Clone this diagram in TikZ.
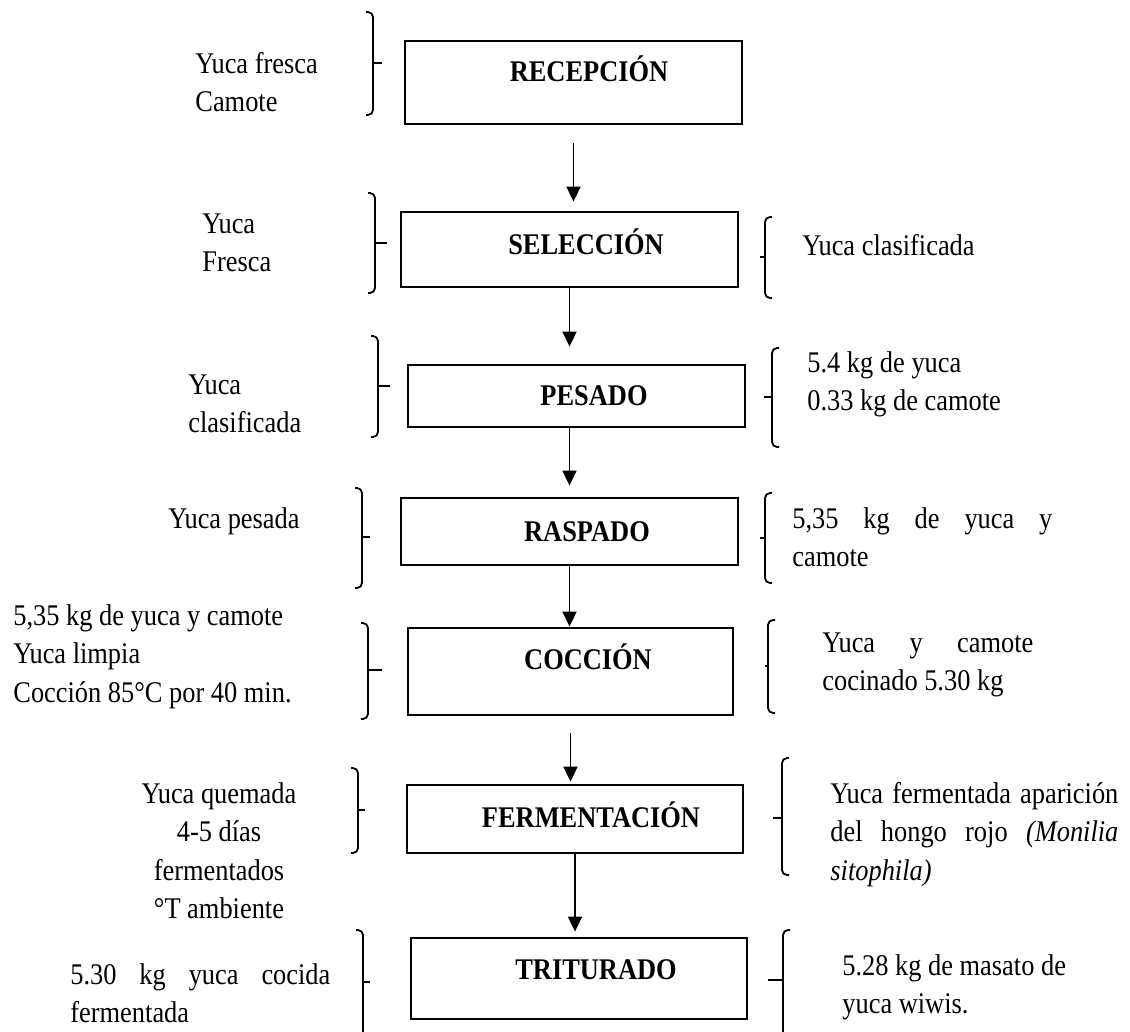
\documentclass[tikz,border=0pt]{standalone}
\usepackage{fontspec}
\setmainfont{Liberation Serif}[FakeStretch=0.88]
\usetikzlibrary{arrows.meta}

% bracket opening towards the right-hand box: x, top, bottom, tick y, tick end x
\newcommand{\leftbrk}[5]{%
  \draw[brk] (#1-7,#2) -- (#1,#2) -- (#1,#3) -- (#1-7,#3);
  \draw[tick] (#1,#4) -- (#5,#4);}
% bracket opening towards the right-hand text
\newcommand{\rightbrk}[5]{%
  \draw[brk] (#1+7,#2) -- (#1,#2) -- (#1,#3) -- (#1+7,#3);
  \draw[tick] (#1,#4) -- (#5,#4);}

\begin{document}
\begin{tikzpicture}[x=0.5pt,y=-0.5pt,
  box/.style={draw, line width=1.4pt, fill=white, minimum width=168.5pt, inner sep=0},
  stage/.style={font=\fontsize{15}{19.25}\selectfont\bfseries, inner sep=0, anchor=base},
  txt/.style={font=\fontsize{15}{19.25}\selectfont, inner sep=0, align=left, anchor=north west},
  ctxt/.style={txt, align=center, anchor=north},
  arr/.style={line width=0.85pt, -{Triangle[width=7pt,length=7.5pt]}},
  brk/.style={line width=0.9pt, rounded corners=2.5pt},
  tick/.style={line width=1.3pt}]
\useasboundingbox[fill=white] (0,0) rectangle (1130,1032);

% process stages
\node[box, minimum height=41.5pt] (recep) at (573.5,82.5) {};
\node[box, minimum height=37.5pt] (selec) at (569.5,249.5) {};
\node[box, minimum height=31pt]   (pesad) at (576.5,396) {};
\node[box, minimum height=33.5pt] (rasp)  at (569.5,531.5) {};
\node[box, minimum width=162.5pt, minimum height=43.5pt] (cocc) at (570.5,671.5) {};
\node[box, minimum width=168pt, minimum height=34pt] (ferm) at (575,819) {};
\node[box, minimum width=168pt, minimum height=40.5pt] (trit) at (579,978.5) {};

\node[stage] (recepT) at (589,82)  {RECEPCIÓN};
\node[stage] (selecT) at (586,255) {SELECCIÓN};
\node[stage] (pesadT) at (594,405) {PESADO};
\node[stage] (raspT)  at (587,541) {RASPADO};
\node[stage] (coccT)  at (588,669) {COCCIÓN};
\node[stage] (fermT)  at (591,827) {FERMENTACIÓN};
\node[stage] (tritT)  at (596,979) {TRITURADO};

% flow arrows
\draw[arr, shorten <=9pt, shorten >=4.5pt] (recep.south) -- (recep.south |- selec.north);
\draw[arr, shorten >=8.5pt] (selec.south) -- (selec.south |- pesad.north);
\draw[arr, shorten >=5.5pt] (pesad.south -| rasp.north) -- (rasp.north);
\draw[arr] (rasp.south) -- (rasp.south |- cocc.north);
\draw[arr, shorten <=8.5pt, shorten >=1pt] (cocc.south) -- (cocc.south |- ferm.north);
\draw[arr, shorten >=2.5pt] (ferm.south) -- (ferm.south |- trit.north);

% inputs on the left
\leftbrk{373}{12}{115}{63}{382}
\leftbrk{375}{193}{293}{243}{387}
\leftbrk{378}{336}{437}{386}{390}
\leftbrk{362}{488}{588}{537}{370}
\leftbrk{368}{623}{719}{670}{382}
\leftbrk{358}{768}{853}{810}{365}
\leftbrk{363}{930}{1045}{982}{370}

\node[txt] (in1) at (195,46)  {\strut Yuca fresca\\Camote};
\node[txt] (in2) at (202,206) {\strut Yuca\\Fresca};
\node[txt] (in3) at (188,367) {\strut Yuca\\clasificada};
\node[txt] (in4) at (168,501) {\strut Yuca pesada};
\node[txt] (in5) at (13,598)  {\strut 5,35 kg de yuca y camote\\Yuca limpia\\Cocción 85°C por 40 min.};
\node[ctxt] (in6) at (219,776) {\strut Yuca quemada\\4-5 días\\fermentados\\°T ambiente};
\node[txt] (in7) at (70,957)  {\strut\makebox[130pt][s]{5.30 kg yuca cocida}\\fermentada};

% outputs on the right
\rightbrk{765}{217}{298}{257}{760}
\rightbrk{772}{348}{447}{397}{764}
\rightbrk{765}{493}{583}{538}{760}
\rightbrk{768}{620}{713}{666}{765}
\rightbrk{782}{758}{875}{818}{773}
\rightbrk{783}{930}{1045}{980}{768}

\node[txt] (out2) at (802,228) {\strut Yuca clasificada};
\node[txt] (out3) at (807,345) {\strut 5.4 kg de yuca\\0.33 kg de camote};
\node[txt] (out4) at (792,501) {\strut\makebox[130pt][s]{5,35 kg de yuca y}\\camote};
\node[txt] (out5) at (822,625) {\strut\makebox[105.5pt][s]{Yuca y camote}\\cocinado 5.30 kg};
\node[txt] (out6) at (830,776) {\strut\makebox[144pt][s]{Yuca fermentada aparición}\\
  \makebox[144pt][s]{del hongo rojo \textit{(Monilia}}\\\textit{sitophila)}};
\node[txt] (out7) at (842,948) {\strut 5.28 kg de masato de\\yuca wiwis.};
\end{tikzpicture}
\end{document}
